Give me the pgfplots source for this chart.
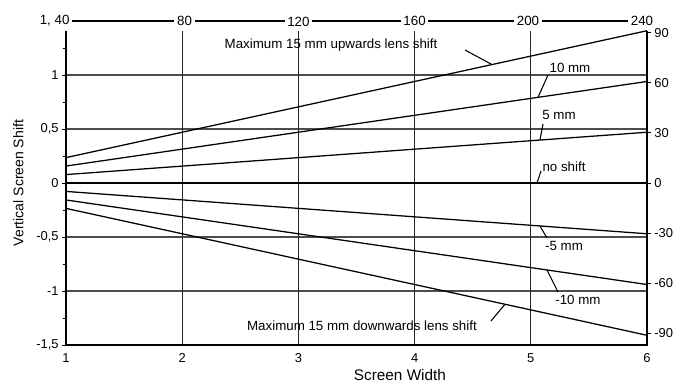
\documentclass[border=0pt]{standalone}
\usepackage{pgfplots}
\pgfplotsset{compat=1.18}
\usepackage{fontspec}
\setmainfont{Liberation Sans}
\newcommand{\tickfont}{\fontsize{9.7}{11}\selectfont}
\newcommand{\topfont}{\fontsize{10}{12}\selectfont}
\newcommand{\annfont}{\fontsize{10}{12}\selectfont}
\begin{document}
\begin{tikzpicture}
\useasboundingbox (0,0) rectangle (510.75pt,287.25pt);
\begin{axis}[
  at={(49.5pt,28.5pt)}, anchor=south west,
  scale only axis, width=435.75pt, height=243pt,
  xmin=1, xmax=6, ymin=-1.5, ymax=1.5,
  axis line style={draw=none},
  clip=false,
  xtick={1,2,3,4,5,6}, xticklabels={1,2,3,4,5,6},
  xtick style={draw=none},
  xtick pos=bottom, ytick pos=left,
  ytick={-1.5,-1,-0.5,0,0.5,1},
  yticklabels={{-1,5},{-1},{-0,5},{0},{0,5},{1}},
  minor ytick={-1.25,-0.75,-0.25,0.25,0.75,1.25},
  tick align=outside,
  major tick length=3pt, minor tick length=2.5pt,
  ytick style={black, line width=0.75pt},
  minor tick style={black, line width=0.75pt},
  ticklabel style={font=\tickfont},
  yticklabel style={xshift=1pt},
]
% horizontal grid
\foreach \yy in {-1,-0.5,0.5,1} {
  \edef\temp{\noexpand\draw[black!70, line width=0.8pt] (axis cs:1,\yy) -- (axis cs:6,\yy);}
  \temp
}
% vertical grid
\foreach \xx in {2,3,4,5} {
  \edef\temp{\noexpand\draw[black!85, line width=0.8pt] (axis cs:\xx,-1.5) -- (axis cs:\xx,1.41);}
  \temp
}
% data
\addplot[black, line width=0.95pt] coordinates {(1,0.235) (6,1.41)};
\addplot[black, line width=0.95pt] coordinates {(1,0.157) (6,0.94)};
\addplot[black, line width=0.95pt] coordinates {(1,0.078) (6,0.47)};
\addplot[black, line width=1.7pt] coordinates {(1,0) (6,0)};
\addplot[black, line width=0.95pt] coordinates {(1,-0.078) (6,-0.47)};
\addplot[black, line width=0.95pt] coordinates {(1,-0.157) (6,-0.94)};
\addplot[black, line width=0.95pt] coordinates {(1,-0.235) (6,-1.41)};
% frame
\draw[black, line width=1.9pt] (axis cs:1,1.41) -- (axis cs:1,-1.5) -- (axis cs:6,-1.5) -- (axis cs:6,1.41);
% top scale line
\draw[black, line width=0.95pt] (axis cs:1,1.5) -- (axis cs:6,1.5);
\node[font=\topfont, fill=white, inner sep=2pt, anchor=east] at (axis cs:1.055,1.5) {1, 40};
\node[font=\topfont, fill=white, inner sep=2pt] at (axis cs:2.02,1.5) {80};
\node[font=\topfont, fill=white, inner sep=2pt] at (axis cs:3,1.49) {120};
\node[font=\topfont, fill=white, inner sep=2pt] at (axis cs:4,1.5) {160};
\node[font=\topfont, fill=white, inner sep=2pt] at (axis cs:4.976,1.5) {200};
\node[font=\topfont, fill=white, inner sep=2pt] at (axis cs:5.957,1.5) {240};
% annotations
\node[font=\annfont] at (axis cs:3.281,1.278) {Maximum 15 mm upwards lens shift};
\draw[black, line width=0.8pt] (axis cs:4.434,1.231) -- (axis cs:4.666,1.097);
\node[font=\annfont] at (axis cs:5.337,1.065) {10 mm};
\draw[black, line width=0.8pt] (axis cs:5.148,1.0) -- (axis cs:5.062,0.793);
\node[font=\annfont] at (axis cs:5.243,0.63) {5 mm};
\draw[black, line width=0.8pt] (axis cs:5.105,0.546) -- (axis cs:5.079,0.398);
\node[font=\annfont] at (axis cs:5.286,0.148) {no shift};
\draw[black, line width=0.8pt] (axis cs:5.088,0.111) -- (axis cs:5.053,0);
\node[font=\annfont] at (axis cs:5.286,-0.583) {-5 mm};
\draw[black, line width=0.8pt] (axis cs:5.079,-0.398) -- (axis cs:5.139,-0.509);
\node[font=\annfont] at (axis cs:5.406,-1.083) {-10 mm};
\draw[black, line width=0.8pt] (axis cs:5.139,-0.805) -- (axis cs:5.234,-1.009);
\node[font=\annfont] at (axis cs:3.547,-1.324) {Maximum 15 mm downwards lens shift};
\draw[black, line width=0.8pt] (axis cs:4.778,-1.123) -- (axis cs:4.657,-1.278);
% axis titles
\node[font=\fontsize{11.5}{13}\selectfont] at (axis cs:3.874,-1.78) {Screen Width};
\node[font=\fontsize{10.5}{12}\selectfont, rotate=90] at (axis cs:0.591,0) {Vertical Screen Shift};
\end{axis}
\begin{axis}[
  at={(49.5pt,28.5pt)}, anchor=south west,
  scale only axis, width=435.75pt, height=243pt,
  xmin=1, xmax=6, ymin=-97.1, ymax=97.1,
  axis y line*=right, axis x line=none,
  axis line style={draw=none},
  ytick={-90,-60,-30,0,30,60,90},
  yticklabels={{-90},{-60},{-30},{0},{30},{60},{90}},
  tick align=outside, major tick length=3pt,
  ytick style={black, line width=0.75pt},
  ticklabel style={font=\tickfont},
  yticklabel style={xshift=-1pt},
]
\end{axis}
\end{tikzpicture}
\end{document}
